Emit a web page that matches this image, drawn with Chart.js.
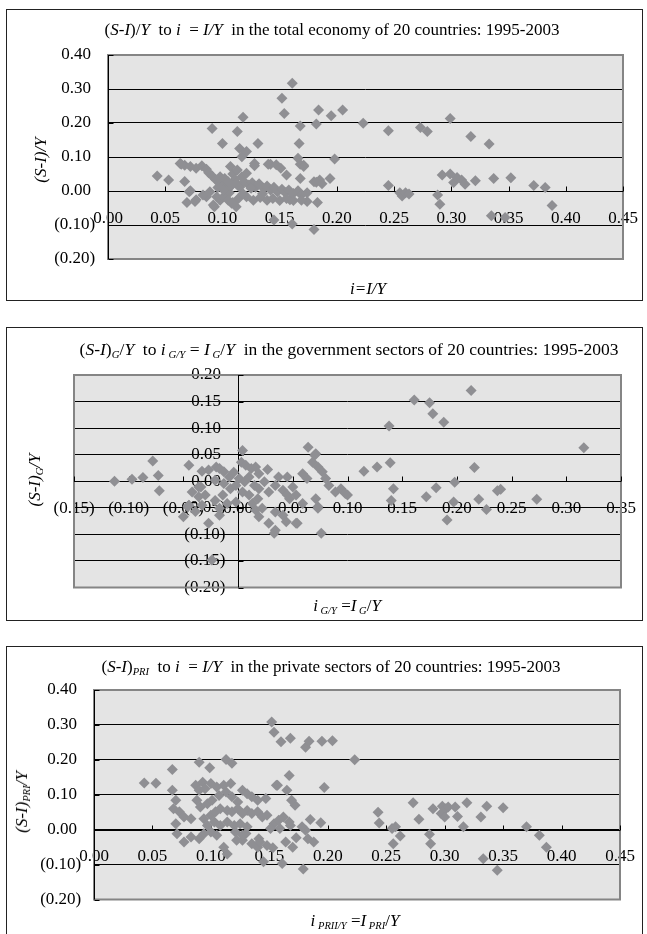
<!DOCTYPE html>
<html>
<head>
<meta charset="utf-8">
<script src="https://cdn.jsdelivr.net/npm/chart.js@4.4.0/dist/chart.umd.min.js"></script>
<style>
  body { margin: 0; background: #fff; width: 647px; height: 934px; position: relative; overflow: hidden;
         font-family: "Liberation Serif", "Times New Roman", serif; color: #000; }
  .box { position: absolute; left: 6px; width: 635px; border: 1px solid #222; background: #fff; }
  canvas { position: absolute; left: 0; }
  .title { position: absolute; white-space: nowrap; font-size: 17px; transform: translate(-50%, -50%); }
  .xt { position: absolute; white-space: nowrap; font-size: 17px; transform: translate(-50%, -50%); }
  .yt { position: absolute; white-space: nowrap; font-size: 17px; transform: translate(-50%, -50%) rotate(-90deg); }
  sub { font-size: 0.62em; vertical-align: -0.3em; line-height: 0; }
</style>
</head>
<body>
<div class="box" style="top:9px;height:290px"></div>
<div class="box" style="top:327px;height:292px"></div>
<div class="box" style="top:646px;height:300px"></div>

<canvas id="c1" width="655" height="305" style="top:0px"></canvas>
<canvas id="c2" width="653" height="305" style="top:320px"></canvas>
<canvas id="c3" width="652" height="294" style="top:640px"></canvas>

<div class="title" style="left:332px;top:30px">(<i>S-I</i>)/<i>Y</i>&nbsp; to <i>i</i> &nbsp;= <i>I/Y</i>&nbsp; in the total economy of 20 countries: 1995-2003</div>
<div class="xt" style="left:368px;top:289px"><i>i=I/Y</i></div>
<div class="yt" style="left:41px;top:160px"><i>(S-I)/Y</i></div>

<div class="title" style="left:349px;top:349px;font-size:17.5px">(<i>S-I</i>)<sub><i>G</i></sub>/<i>Y</i>&nbsp; to <i>i</i><sub><i> G/Y</i></sub> = <i>I</i><sub><i> G</i></sub>/<i>Y</i>&nbsp; in the government sectors of 20 countries: 1995-2003</div>
<div class="xt" style="left:347px;top:606px"><i>i</i><sub><i> G/Y</i></sub> =<i>I</i><sub><i> G</i></sub>/<i>Y</i></div>
<div class="yt" style="left:35px;top:480px"><i>(S-I)</i><sub><i>G</i></sub><i>/Y</i></div>

<div class="title" style="left:331px;top:667px">(<i>S-I</i>)<sub><i>PRI</i></sub>&nbsp; to <i>i</i> &nbsp;= <i>I/Y</i>&nbsp; in the private sectors of 20 countries: 1995-2003</div>
<div class="xt" style="left:355px;top:921px"><i>i</i><sub><i> PRII/Y</i></sub> =<i>I</i><sub><i> PRI</i></sub>/<i>Y</i></div>
<div class="yt" style="left:22px;top:802px"><i>(S-I)</i><sub><i>PRI</i></sub><i>/Y</i></div>

<script>
// total economy: i = I/Y and (S-I)/Y
const totalI = [
  0.043, 0.053, 0.067, 0.063, 0.067, 0.071, 0.069, 0.076, 0.086, 0.091,
  0.100, 0.093, 0.113, 0.118, 0.115, 0.121, 0.117, 0.131, 0.128, 0.128,
  0.140, 0.161, 0.152, 0.154, 0.168, 0.167, 0.166, 0.171, 0.168, 0.184,
  0.182, 0.195, 0.205, 0.198, 0.194, 0.180, 0.185, 0.183, 0.161, 0.180,
  0.145, 0.223, 0.174, 0.159, 0.108, 0.112,
  0.245, 0.273, 0.279, 0.299, 0.317, 0.333, 0.245, 0.255, 0.257, 0.260,
  0.263, 0.288, 0.290, 0.292, 0.299, 0.302, 0.305, 0.309, 0.312, 0.321,
  0.337, 0.352, 0.372, 0.382, 0.388, 0.335, 0.347,
  0.064, 0.072, 0.077, 0.082, 0.086, 0.088, 0.091, 0.094, 0.097, 0.100,
  0.103, 0.106, 0.107, 0.109, 0.111, 0.112, 0.115, 0.119, 0.123, 0.126,
  0.129, 0.132, 0.136, 0.139, 0.142, 0.145, 0.148, 0.152, 0.155, 0.158,
  0.162, 0.166, 0.169, 0.174, 0.095, 0.098, 0.101, 0.105, 0.109, 0.114,
  0.121, 0.127, 0.133, 0.139, 0.144, 0.150, 0.156, 0.162, 0.169, 0.077,
  0.083, 0.089, 0.072, 0.092, 0.101, 0.107, 0.098, 0.102, 0.105, 0.108,
  0.117, 0.121, 0.142, 0.147, 0.151, 0.156, 0.168, 0.171, 0.182, 0.187,
  0.125, 0.118, 0.135, 0.096, 0.113
];
const totalSI = [
  0.044, 0.032, 0.028, 0.081, 0.076, -0.002, -0.034, -0.031, -0.017, 0.184,
  0.140, -0.046, 0.175, 0.217, 0.125, 0.116, 0.101, 0.140, 0.081, 0.074,
  0.079, 0.317, 0.273, 0.228, 0.191, 0.140, 0.096, 0.076, 0.037, 0.238,
  0.197, 0.221, 0.238, 0.094, 0.037, 0.027, 0.032, -0.034, -0.097, -0.113,
  -0.085, 0.199, -0.031, -0.026, -0.036, -0.046,
  0.177, 0.187, 0.175, 0.213, 0.160, 0.138, 0.016, -0.005, -0.015, -0.005,
  -0.009, -0.012, -0.039, 0.047, 0.050, 0.025, 0.040, 0.032, 0.020, 0.030,
  0.037, 0.039, 0.016, 0.010, -0.043, -0.073, -0.078,
  0.079, 0.072, 0.067, 0.074, 0.064, 0.054, 0.044, 0.034, 0.025, 0.015,
  0.005, -0.005, 0.072, 0.050, 0.034, 0.023, 0.011, 0.027, 0.018, 0.024,
  0.011, 0.021, 0.008, 0.015, 0.003, 0.011, -0.002, 0.005, -0.005, 0.003,
  -0.007, 0.001, -0.012, -0.005, -0.017, -0.027, -0.017, -0.027, -0.034, -0.022,
  -0.017, -0.027, -0.019, -0.027, -0.022, -0.028, -0.022, -0.028, -0.027, -0.026,
  -0.012, -0.002, 0.001, -0.041, 0.003, 0.013, 0.042, 0.037, 0.027, 0.018,
  0.042, 0.052, 0.079, 0.077, 0.067, 0.047, 0.079, 0.072, 0.026, 0.021,
  0.008, -0.008, -0.008, 0.010, 0.062
];

// government sectors: i G/Y and (S-I)G/Y
const govI = [
  -0.113, -0.097, -0.087, -0.078, -0.073, -0.072, -0.050, -0.045, -0.034, -0.036,
  -0.027, -0.024, -0.020, -0.017, 0.033, 0.054, 0.071, 0.073,
  -0.033, -0.027, -0.017, -0.013, -0.008, 0.004, 0.003, 0.007, 0.012, 0.016,
  0.019, 0.027, 0.037, 0.045, 0.059, 0.063, 0.064, 0.070, 0.068, 0.073,
  0.077, 0.080, 0.083, 0.089, 0.094, 0.098, 0.071, 0.073, 0.076, 0.059,
  0.053, 0.044, 0.034, 0.028, 0.019, 0.016, 0.013, -0.046, -0.039, -0.033,
  -0.021, -0.014, -0.007, -0.002, 0.001, 0.006, 0.010, 0.015, 0.019, 0.024,
  0.028, 0.034, 0.041, 0.045, 0.050, 0.004, 0.010, -0.002, -0.010, -0.017,
  -0.030, -0.036, -0.042, 0.022, 0.034, 0.041, 0.047, 0.053, 0.018, -0.004,
  -0.013, -0.021, -0.045, 0.100,
  0.213, 0.161, 0.175, 0.178, 0.188, 0.138, 0.316, 0.115, 0.127, 0.139,
  0.216, 0.142, 0.140, 0.181, 0.172, 0.198, 0.197, 0.191, 0.220, 0.227,
  0.237, 0.273, 0.240
];
const govSI = [
  0.000, 0.004, 0.007, 0.038, 0.011, -0.018, -0.067, -0.045, -0.011, -0.029,
  -0.079, -0.148, 0.027, -0.064, -0.098, -0.079, 0.052, -0.048,
  0.019, 0.021, 0.024, 0.018, 0.008, 0.058, 0.036, 0.030, 0.024, 0.027,
  0.014, 0.022, 0.008, 0.008, 0.014, 0.005, 0.064, 0.049, 0.036, 0.027,
  0.018, 0.005, -0.008, -0.020, -0.014, -0.023, -0.033, -0.051, -0.098, -0.042,
  -0.079, -0.076, -0.092, -0.079, -0.067, -0.054, -0.042, -0.048, -0.057, -0.045,
  -0.036, -0.026, -0.014, -0.008, 0.005, -0.001, 0.008, -0.008, -0.014, -0.001,
  -0.020, -0.008, -0.017, -0.026, -0.011, -0.020, -0.026, -0.039, -0.042, -0.051,
  -0.026, -0.011, -0.020, -0.051, -0.058, -0.064, -0.033, -0.026, -0.033, 0.017,
  -0.004, 0.002, 0.030, -0.026,
  0.171, 0.153, 0.148, 0.127, 0.111, 0.104, 0.063, 0.019, 0.027, 0.035,
  0.026, -0.014, -0.036, -0.012, -0.029, -0.002, -0.039, -0.073, -0.034, -0.053,
  -0.018, -0.034, -0.015
];

// private sectors: i PRI/Y and (S-I)PRI/Y
const priI = [
  0.043, 0.053, 0.067, 0.090, 0.099, 0.113, 0.118, 0.152, 0.154, 0.160,
  0.168, 0.181, 0.184, 0.195, 0.204, 0.223, 0.156, 0.167, 0.197, 0.172,
  0.145, 0.161, 0.179, 0.114, 0.111, 0.153, 0.194, 0.185, 0.183, 0.181,
  0.178, 0.173, 0.170, 0.168, 0.164, 0.135, 0.130, 0.127, 0.141, 0.140,
  0.067, 0.070, 0.068, 0.073, 0.077, 0.083, 0.070, 0.071, 0.077, 0.083,
  0.087, 0.093, 0.090, 0.095, 0.100, 0.105, 0.111, 0.117, 0.088, 0.091,
  0.097, 0.101, 0.107, 0.113, 0.118, 0.123, 0.127, 0.131, 0.135, 0.140,
  0.147, 0.157, 0.165, 0.169, 0.094, 0.100, 0.104, 0.108, 0.114, 0.118,
  0.123, 0.127, 0.131, 0.135, 0.140, 0.144, 0.148, 0.097, 0.103, 0.108,
  0.114, 0.120, 0.125, 0.131, 0.100, 0.105, 0.094, 0.090, 0.121, 0.127,
  0.122, 0.142, 0.148, 0.154, 0.158, 0.162, 0.167, 0.159, 0.151, 0.188,
  0.243, 0.244, 0.255, 0.258, 0.256, 0.262, 0.273, 0.278, 0.287, 0.288,
  0.290, 0.298, 0.297, 0.301, 0.303, 0.309, 0.300, 0.311, 0.316, 0.319,
  0.331, 0.336, 0.350, 0.333, 0.345, 0.370, 0.381, 0.387
];
const priSI = [
  0.134, 0.133, 0.172, 0.193, 0.177, 0.201, 0.190, 0.308, 0.279, 0.252,
  0.262, 0.236, 0.253, 0.253, 0.255, 0.200, 0.127, 0.155, 0.121, 0.070,
  -0.092, -0.097, -0.113, -0.070, -0.050, -0.052, 0.020, 0.029, -0.026, -0.002,
  0.008, -0.023, -0.050, 0.012, -0.035, -0.040, -0.011, -0.030, -0.026, -0.050,
  0.113, 0.084, 0.060, 0.051, 0.036, 0.031, 0.017, -0.012, -0.035, -0.021,
  0.127, 0.136, 0.113, 0.117, 0.132, 0.122, 0.127, 0.132, 0.084, 0.065,
  0.074, 0.084, 0.098, 0.108, 0.094, 0.079, 0.113, 0.103, 0.094, 0.084,
  0.089, 0.127, 0.113, 0.084, 0.031, 0.041, 0.051, 0.060, 0.055, 0.051,
  0.060, 0.046, 0.055, 0.046, 0.051, 0.036, 0.041, 0.012, 0.022, 0.012,
  0.022, 0.012, 0.017, 0.008, -0.007, -0.016, -0.012, -0.026, -0.007, -0.016,
  -0.030, -0.035, -0.045, 0.017, 0.027, 0.036, 0.022, 0.003, 0.003, -0.035,
  0.050, 0.019, 0.003, 0.008, -0.040, -0.018, 0.077, 0.030, -0.013, -0.040,
  0.060, 0.067, 0.046, 0.060, 0.065, 0.065, 0.036, 0.038, 0.008, 0.077,
  0.036, 0.067, 0.063, -0.083, -0.116, 0.008, -0.016, -0.050
];

const serif = '"Liberation Serif", "Times New Roman", serif';

function fmt(v) {
  if (v < -1e-9) return '(' + Math.abs(v).toFixed(2) + ')';
  return Math.abs(v).toFixed(2);
}

// plot area background, grey frame, black axis lines with small tick marks
const excelFrame = {
  id: 'excelFrame',
  beforeDraw(chart) {
    const a = chart.chartArea, ctx = chart.ctx;
    ctx.save();
    ctx.fillStyle = '#e4e4e4';
    ctx.fillRect(a.left, a.top, a.right - a.left, a.bottom - a.top);
    ctx.restore();
  },
  beforeDatasetsDraw(chart) {
    const a = chart.chartArea, ctx = chart.ctx;
    const xs = chart.scales.x, ys = chart.scales.y;
    ctx.save();
    ctx.strokeStyle = '#858585';
    ctx.lineWidth = 2;
    ctx.strokeRect(a.left, a.top, a.right - a.left, a.bottom - a.top);
    const x0 = Math.round(xs.getPixelForValue(0)) + 0.5;
    const y0 = Math.round(ys.getPixelForValue(0)) + 0.5;
    ctx.strokeStyle = '#000';
    ctx.lineWidth = 1;
    ctx.beginPath();
    ctx.moveTo(x0, a.top); ctx.lineTo(x0, a.bottom);
    ctx.moveTo(a.left, y0); ctx.lineTo(a.right, y0);
    xs.ticks.forEach(t => {
      const px = Math.round(xs.getPixelForValue(t.value)) + 0.5;
      ctx.moveTo(px, y0); ctx.lineTo(px, y0 - 5);
    });
    ys.ticks.forEach(t => {
      const py = Math.round(ys.getPixelForValue(t.value)) + 0.5;
      ctx.moveTo(x0, py); ctx.lineTo(x0 + 5, py);
    });
    ctx.stroke();
    ctx.restore();
  }
};

function makeChart(id, xVals, yVals, xr, yr, yStep, pad) {
  const pts = xVals.map((x, i) => ({ x: x, y: yVals[i] }));
  return new Chart(document.getElementById(id), {
    type: 'scatter',
    data: {
      datasets: [{
        data: pts,
        pointStyle: 'rectRot',
        pointRadius: 5.5,
        pointHoverRadius: 5.5,
        backgroundColor: '#8f8f93',
        borderWidth: 0
      }]
    },
    options: {
      responsive: false,
      animation: false,
      events: [],
      layout: { padding: pad, autoPadding: false },
      plugins: { legend: { display: false }, tooltip: { enabled: false } },
      scales: {
        x: {
          type: 'linear',
          position: { y: 0 },
          min: xr[0], max: xr[1],
          grid: { display: false, drawTicks: false },
          border: { display: false },
          ticks: {
            stepSize: 0.05, autoSkip: false, maxRotation: 0, minRotation: 0,
            padding: 17, color: '#000',
            font: { family: serif, size: 17 },
            callback: v => fmt(v)
          }
        },
        y: {
          type: 'linear',
          position: { x: 0 },
          min: yr[0], max: yr[1],
          grid: { color: '#000', lineWidth: 1, drawTicks: false },
          border: { display: false },
          ticks: {
            stepSize: yStep, autoSkip: false, color: '#000',
            font: { family: serif, size: 17 },
            // labels sit on an axis placed at x = 0, so the gap is made with spaces
            callback: v => v < -1e-9 ? fmt(v) + '   ' : fmt(v) + '    '
          }
        }
      }
    },
    plugins: [excelFrame]
  });
}

// canvases are a little wider than the page; the right 32px stay empty
makeChart('c1', totalI, totalSI, [0, 0.45], [-0.2, 0.4], 0.1,
  { left: 108, right: 32, top: 55, bottom: 46 });
makeChart('c2', govI, govSI, [-0.15, 0.35], [-0.2, 0.2], 0.05,
  { left: 74, right: 32, top: 55, bottom: 37.5 });
makeChart('c3', priI, priSI, [0, 0.45], [-0.2, 0.4], 0.1,
  { left: 94, right: 32, top: 50, bottom: 34.5 });
</script>
</body>
</html>
